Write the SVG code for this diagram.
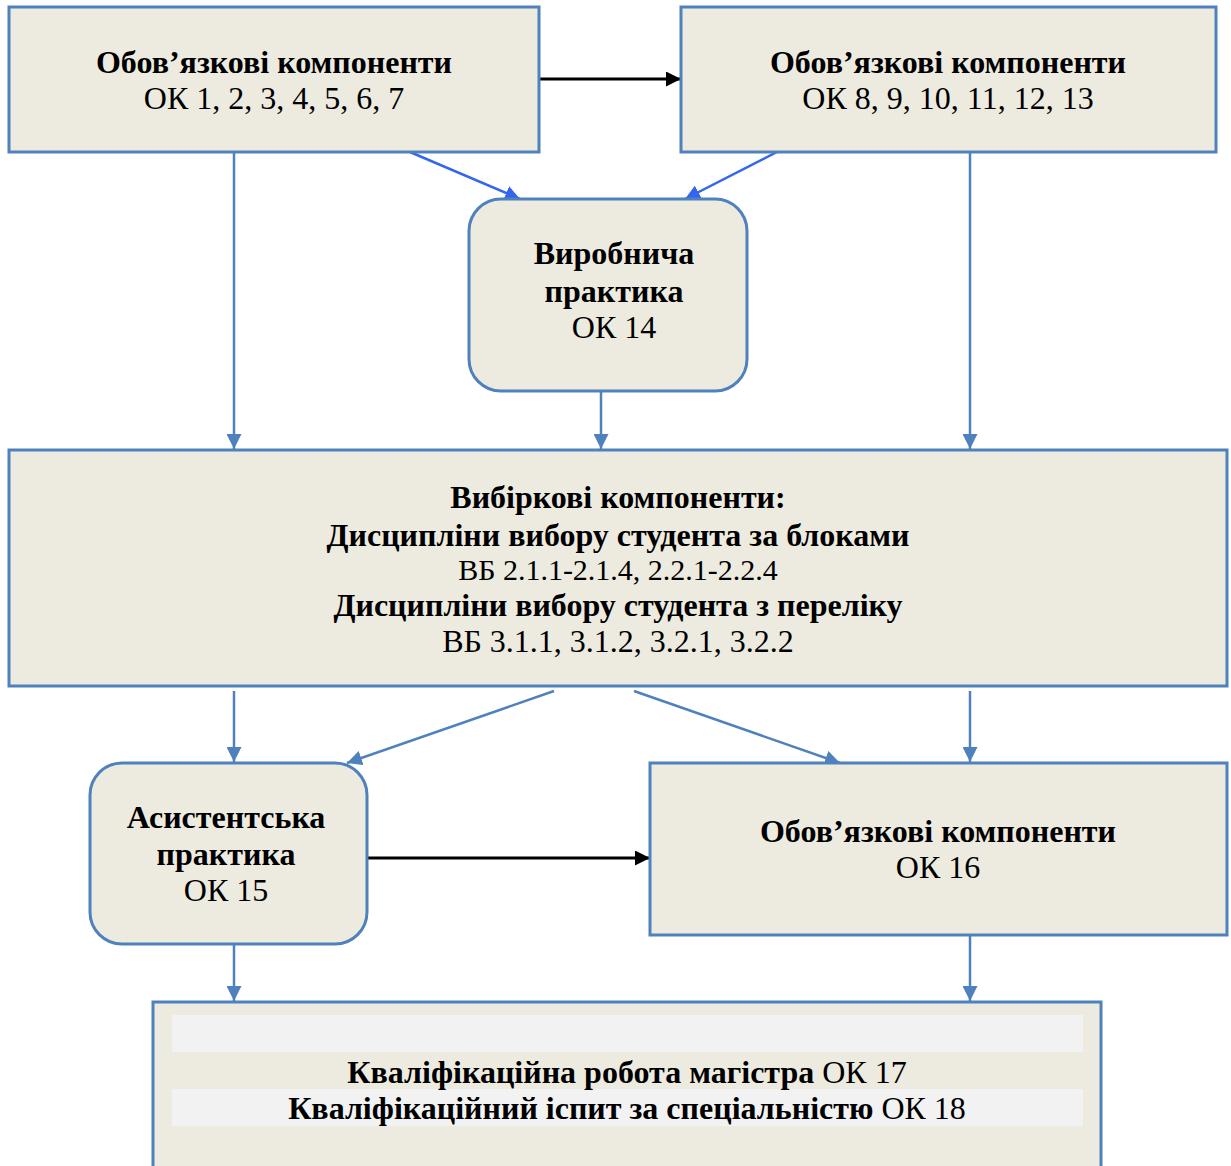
<svg xmlns="http://www.w3.org/2000/svg" width="1231" height="1166" viewBox="0 0 1231 1166">
<defs>
<style>
.box{fill:#EDEBE0;stroke:#4F81BD;stroke-width:3}
.t{font-family:"Liberation Serif","Times New Roman",serif;font-size:32px;text-anchor:middle;fill:#000}
.b{font-weight:bold}
.c{stroke:#4F81BD;stroke-width:2.5;fill:none}
.cb{stroke:#3366F0;stroke-width:2.5;fill:none}
.ck{stroke:#000;stroke-width:3;fill:none}
</style>
<marker id="ab" viewBox="0 0 10 10" refX="10" refY="5" markerWidth="6" markerHeight="6" orient="auto" markerUnits="strokeWidth"><path d="M0,0 L10,5 L0,10 z" fill="#4F81BD"/></marker>
<marker id="abb" viewBox="0 0 10 10" refX="10" refY="5" markerWidth="6" markerHeight="6" orient="auto" markerUnits="strokeWidth"><path d="M0,0 L10,5 L0,10 z" fill="#3366F0"/></marker>
<marker id="ak" viewBox="0 0 10 10" refX="10" refY="5" markerWidth="5" markerHeight="5" orient="auto" markerUnits="strokeWidth"><path d="M0,0 L10,5 L0,10 z" fill="#000"/></marker>
</defs>
<rect width="1231" height="1166" fill="#fff"/>

<g id="connectors">
<line class="ck" x1="539" y1="79" x2="681" y2="79" marker-end="url(#ak)"/>
<line class="cb" x1="410" y1="152" x2="520" y2="199" marker-end="url(#abb)"/>
<line class="cb" x1="777" y1="152" x2="685" y2="199" marker-end="url(#abb)"/>
<line class="c" x1="234" y1="152" x2="234" y2="449" marker-end="url(#ab)"/>
<line class="c" x1="601" y1="392" x2="601" y2="449" marker-end="url(#ab)"/>
<line class="c" x1="970" y1="152" x2="970" y2="449" marker-end="url(#ab)"/>
<line class="c" x1="234" y1="691" x2="234" y2="762" marker-end="url(#ab)"/>
<line class="c" x1="554" y1="691" x2="347" y2="763" marker-end="url(#ab)"/>
<line class="c" x1="634" y1="691" x2="840" y2="763" marker-end="url(#ab)"/>
<line class="c" x1="970" y1="691" x2="970" y2="762" marker-end="url(#ab)"/>
<line class="ck" x1="367" y1="858" x2="650" y2="858" marker-end="url(#ak)"/>
<line class="c" x1="234" y1="945" x2="234" y2="1001" marker-end="url(#ab)"/>
<line class="c" x1="970" y1="936" x2="970" y2="1001" marker-end="url(#ab)"/>
</g>

<g id="ok1-7">
<rect class="box" x="9" y="7" width="530" height="145"/>
<text class="t b" x="274" y="73">Обов’язкові компоненти</text>
<text class="t" x="274" y="109">ОК 1, 2, 3, 4, 5, 6, 7</text>
</g>

<g id="ok8-13">
<rect class="box" x="681" y="7" width="535" height="145"/>
<text class="t b" x="948" y="73">Обов’язкові компоненти</text>
<text class="t" x="948" y="109">ОК 8, 9, 10, 11, 12, 13</text>
</g>

<g id="ok14">
<rect class="box" x="469" y="199" width="278" height="192" rx="32"/>
<text class="t b" x="614" y="264">Виробнича</text>
<text class="t b" x="614" y="302">практика</text>
<text class="t" x="614" y="338">ОК 14</text>
</g>

<g id="vb">
<rect class="box" x="9" y="450" width="1218" height="236"/>
<text class="t b" x="618" y="508">Вибіркові компоненти:</text>
<text class="t b" x="618" y="546">Дисципліни вибору студента за блоками</text>
<text class="t" x="618" y="580" style="font-size:30px">ВБ 2.1.1-2.1.4, 2.2.1-2.2.4</text>
<text class="t b" x="618" y="616">Дисципліни вибору студента з переліку</text>
<text class="t" x="618" y="652">ВБ 3.1.1, 3.1.2, 3.2.1, 3.2.2</text>
</g>

<g id="ok15">
<rect class="box" x="90" y="763" width="277" height="181" rx="32"/>
<text class="t b" x="226" y="828">Асистентська</text>
<text class="t b" x="226" y="865">практика</text>
<text class="t" x="226" y="901">ОК 15</text>
</g>

<g id="ok16">
<rect class="box" x="650" y="763" width="577" height="172"/>
<text class="t b" x="938" y="842">Обов’язкові компоненти</text>
<text class="t" x="938" y="878">ОК 16</text>
</g>

<g id="ok17-18">
<rect class="box" x="153" y="1002" width="948" height="180"/>
<rect x="172" y="1015" width="911" height="37" fill="#F2F2F2"/>
<rect x="172" y="1089" width="911" height="37" fill="#F2F2F2"/>
<text class="t" x="627" y="1083"><tspan class="b">Кваліфікаційна робота магістра</tspan> ОК 17</text>
<text class="t" x="627" y="1119"><tspan class="b">Кваліфікаційний іспит за спеціальністю</tspan> ОК 18</text>
</g>
</svg>
